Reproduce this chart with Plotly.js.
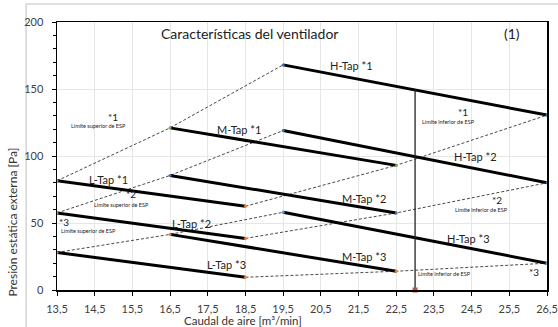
<!DOCTYPE html>
<html>
<head>
<meta charset="utf-8">
<script src="https://cdn.plot.ly/plotly-3.0.1.min.js"></script>
<style>html,body{margin:0;padding:0;background:#fff;}#chart{width:558px;height:327px;}</style>
</head>
<body>
<div id="chart"></div>
<script>
// Air flow [m3/min] endpoints of each tap line
const xL = [13.5, 18.5];
const xM = [16.5, 22.5];
const xH = [19.5, 26.5];
// External static pressure [Pa]
const lTap1 = [81.5, 62.5];
const lTap2 = [57.5, 38.5];
const lTap3 = [28, 9.5];
const mTap1 = [121, 93];
const mTap2 = [85.5, 57.5];
const mTap3 = [41.5, 14];
const hTap1 = [168, 130.5];
const hTap2 = [119, 80];
const hTap3 = [58, 20];
// rated point vertical line
const ratedX = [23, 23];
const ratedY = [0, 149.5];
// tick labels
const xTicks = [13.5, 14.5, 15.5, 16.5, 17.5, 18.5, 19.5, 20.5, 21.5, 22.5, 23.5, 24.5, 25.5, 26.5];
const xTickText = ["13,5","14,5","15,5","16,5","17,5","18,5","19,5","20,5","21,5","22,5","23,5","24,5","25,5","26,5"];
const yTicks = [0, 50, 100, 150, 200];

const FONT = 'Lato, "Open Sans", sans-serif';
const traces = [];
const taps = [
  [xL, lTap1, '#ED7D31'], [xL, lTap2, '#ED7D31'], [xL, lTap3, '#ED7D31'],
  [xM, mTap1, '#70AD47'], [xM, mTap2, '#4472C4'], [xM, mTap3, '#ED7D31'],
  [xH, hTap1, '#4472C4'], [xH, hTap2, '#4472C4'], [xH, hTap3, '#5B9BD5']
];
// dashed limit lines (upper: starts, lower: ends)
const upperX = [xL[0], xM[0], xH[0]];
const lowerX = [xL[1], xM[1], xH[1]];
const sets = [[lTap1, mTap1, hTap1], [lTap2, mTap2, hTap2], [lTap3, mTap3, hTap3]];
sets.forEach(s => {
  traces.push({x: upperX, y: [s[0][0], s[1][0], s[2][0]], mode: 'lines', type: 'scatter',
    line: {color: '#333', width: 0.9, dash: '3px,2px'}, hoverinfo: 'skip'});
  traces.push({x: lowerX, y: [s[0][1], s[1][1], s[2][1]], mode: 'lines', type: 'scatter',
    line: {color: '#333', width: 0.9, dash: '3px,2px'}, hoverinfo: 'skip'});
});
taps.forEach(t => {
  traces.push({x: t[0], y: t[1], mode: 'lines+markers', type: 'scatter',
    line: {color: '#000', width: 3}, marker: {color: t[2], size: 3}, hoverinfo: 'skip'});
});
traces.push({x: ratedX, y: ratedY, mode: 'lines', type: 'scatter',
  line: {color: '#222', width: 1.3}, hoverinfo: 'skip'});
traces.push({x: [ratedX[0]], y: [ratedY[0]], mode: 'markers', type: 'scatter',
  marker: {color: '#C0504D', size: 5, symbol: 'square'}, hoverinfo: 'skip', cliponaxis: false});

function lab(x, y, text, size) {
  return {x: x, y: y, xref: 'x', yref: 'y', text: text, showarrow: false,
    xanchor: 'center', yanchor: 'middle', font: {family: FONT, size: size, color: '#222'}};
}
const annotations = [
  lab(18.6, 191.6, 'Características del ventilador', 14),
  lab(25.58, 191.6, '(1)', 14),
  lab(21.32, 167.4, 'H-Tap *1', 11),
  lab(18.34, 120.1, 'M-Tap *1', 11),
  lab(24.61, 99.9, 'H-Tap *2', 11),
  lab(14.87, 82.5, 'L-Tap *1', 11),
  lab(21.65, 68.5, 'M-Tap *2', 11),
  lab(17.08, 49.6, 'L-Tap *2', 11),
  lab(24.42, 38.8, 'H-Tap *3', 11),
  lab(21.65, 24.7, 'M-Tap *3', 11),
  lab(18.01, 19.0, 'L-Tap *3', 11),
  lab(14.99, 128.8, '*1', 10),
  lab(14.6, 122.3, 'Límite superior de ESP', 5.5),
  lab(24.27, 132.7, '*1', 10),
  lab(23.89, 125.3, 'Límite inferior de ESP', 5.5),
  lab(15.46, 71.8, '*2', 10),
  lab(15.22, 63.3, 'Límite superior de ESP', 5.5),
  lab(13.68, 51.0, '*3', 10),
  lab(14.34, 44.1, 'Límite superior de ESP', 5.5),
  lab(25.17, 67.3, '*2', 10),
  lab(24.75, 60.0, 'Límite inferior de ESP', 5.5),
  lab(23.77, 11.7, 'Límite inferior de ESP', 5.5),
  lab(26.16, 13.4, '*3', 10),
  {xref: 'paper', yref: 'paper', x: 0.38, y: -0.115, text: 'Caudal de aire [m³/min]', showarrow: false,
   xanchor: 'center', yanchor: 'middle', font: {family: FONT, size: 11.5, color: '#333'}},
  {xref: 'paper', yref: 'paper', x: -0.091, y: 0.253, text: 'Presión estática externa [Pa]', showarrow: false,
   textangle: -90, xanchor: 'center', yanchor: 'middle', font: {family: FONT, size: 12, color: '#333'}}
];

const layout = {
  width: 558, height: 327,
  margin: {l: 57, r: 11, t: 22, b: 37, pad: 0},
  paper_bgcolor: '#fff', plot_bgcolor: '#fff',
  showlegend: false,
  separators: ',.',
  font: {family: FONT, size: 11, color: '#404040'},
  xaxis: {
    range: [13.5, 26.5], tickvals: xTicks, ticktext: xTickText,
    showgrid: true, gridcolor: '#e6e6e6', gridwidth: 1,
    showline: true, linecolor: '#000', linewidth: 1.5, mirror: true,
    ticks: 'outside', ticklen: 4, tickcolor: '#000', tickwidth: 1,
    zeroline: false, fixedrange: true, ticklabelstandoff: 4
  },
  yaxis: {
    range: [0, 200], tickvals: yTicks,
    showgrid: true, gridcolor: '#e6e6e6', gridwidth: 1,
    showline: true, linecolor: '#000', linewidth: 1.5, mirror: true,
    ticks: 'outside', ticklen: 4, tickcolor: '#000', tickwidth: 1,
    minor: {dtick: 10, ticks: 'outside', ticklen: 3, tickcolor: '#000', showgrid: false},
    zeroline: false, fixedrange: true, ticklabelstandoff: 6
  },
  shapes: [
    {type: 'rect', xref: 'paper', yref: 'paper', x0: -0.063, x1: 1.2, y0: -0.3, y1: 1.067,
     line: {color: '#d4d4d4', width: 1.5}, fillcolor: 'rgba(0,0,0,0)', layer: 'below'}
  ],
  annotations: annotations
};
Plotly.newPlot('chart', traces, layout, {staticPlot: true, displayModeBar: false});
</script>
</body>
</html>
